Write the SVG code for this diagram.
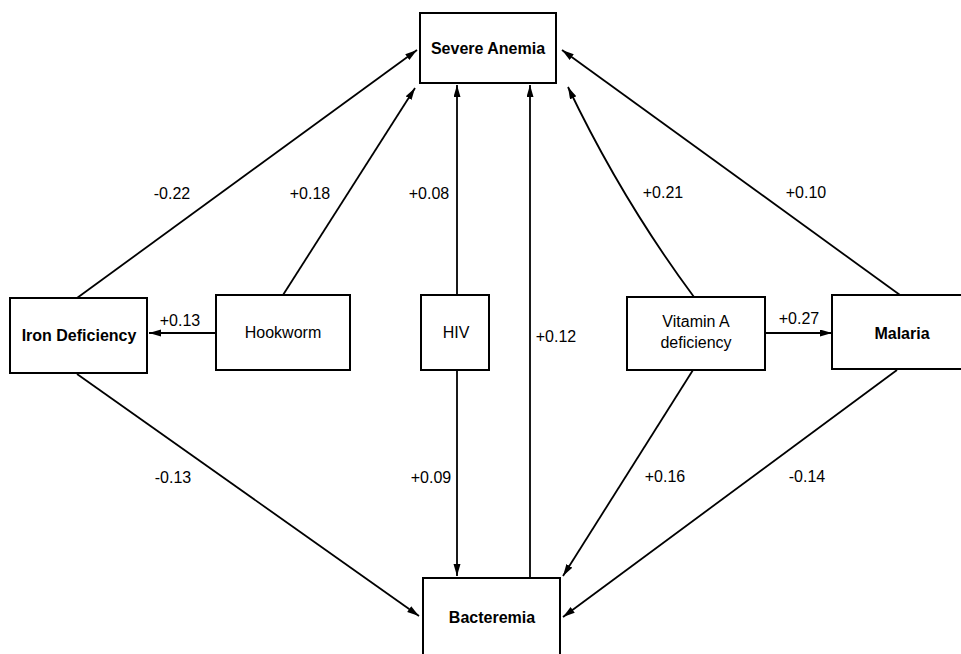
<svg xmlns="http://www.w3.org/2000/svg" width="961" height="654" viewBox="0 0 961 654">
<style>
.box{fill:#fff;stroke:#000;stroke-width:2}
.lbl{font-family:"Liberation Sans",Arial,sans-serif;font-size:16px;fill:#000;text-anchor:middle}
.b{font-weight:bold}
.num{font-family:"Liberation Sans",Arial,sans-serif;font-size:16px;fill:#000;text-anchor:middle}
.edge{fill:none;stroke:#000;stroke-width:1.8;marker-end:url(#ah)}
</style>
<defs>
<marker id="ah" markerUnits="userSpaceOnUse" markerWidth="13" markerHeight="8" refX="12" refY="3.5" orient="auto">
<path d="M0,0 L12,3.5 L0,7 Z" fill="#000"/>
</marker>
</defs>
<rect width="961" height="654" fill="#fff"/>
<g id="connectors">
<line class="edge" x1="77" y1="298" x2="417" y2="50"/>
<line class="edge" x1="283" y1="295" x2="415" y2="88"/>
<line class="edge" x1="457" y1="295" x2="457" y2="85"/>
<line class="edge" x1="530" y1="578" x2="530" y2="85"/>
<path class="edge" d="M694,297 Q622,200 568,87"/>
<line class="edge" x1="900" y1="295" x2="562" y2="50"/>
<line class="edge" x1="216" y1="333" x2="149" y2="333"/>
<line class="edge" x1="765" y1="333" x2="832" y2="333"/>
<line class="edge" x1="77" y1="374" x2="419" y2="616"/>
<line class="edge" x1="457" y1="370" x2="457" y2="576"/>
<line class="edge" x1="693" y1="370" x2="563" y2="576"/>
<line class="edge" x1="897" y1="370" x2="563" y2="617"/>
<text class="num" x="172" y="199">-0.22</text>
<text class="num" x="310" y="199">+0.18</text>
<text class="num" x="429" y="199">+0.08</text>
<text class="num" x="663" y="198">+0.21</text>
<text class="num" x="806" y="198">+0.10</text>
<text class="num" x="180" y="326">+0.13</text>
<text class="num" x="556" y="342">+0.12</text>
<text class="num" x="799" y="324">+0.27</text>
<text class="num" x="173" y="483">-0.13</text>
<text class="num" x="431" y="483">+0.09</text>
<text class="num" x="665" y="482">+0.16</text>
<text class="num" x="807" y="482">-0.14</text>
</g>
<g id="severe-anemia">
<rect class="box" x="420" y="13" width="136" height="70"/>
<text class="lbl b" x="488" y="54">Severe Anemia</text>
</g>
<g id="iron-deficiency">
<rect class="box" x="10" y="298" width="137" height="75"/>
<text class="lbl b" x="79" y="341">Iron Deficiency</text>
</g>
<g id="hookworm">
<rect class="box" x="216" y="295" width="134" height="75"/>
<text class="lbl" x="283" y="338">Hookworm</text>
</g>
<g id="hiv">
<rect class="box" x="421" y="295" width="68" height="75"/>
<text class="lbl" x="456" y="338">HIV</text>
</g>
<g id="vitamin-a">
<rect class="box" x="627" y="297" width="138" height="73"/>
<text class="lbl" x="696" y="327">Vitamin A</text>
<text class="lbl" x="696" y="348">deficiency</text>
</g>
<g id="malaria">
<rect class="box" x="832" y="295" width="140" height="74"/>
<text class="lbl b" x="902" y="339">Malaria</text>
</g>
<g id="bacteremia">
<rect class="box" x="423" y="578" width="137" height="90"/>
<text class="lbl b" x="492" y="623">Bacteremia</text>
</g>
</svg>
